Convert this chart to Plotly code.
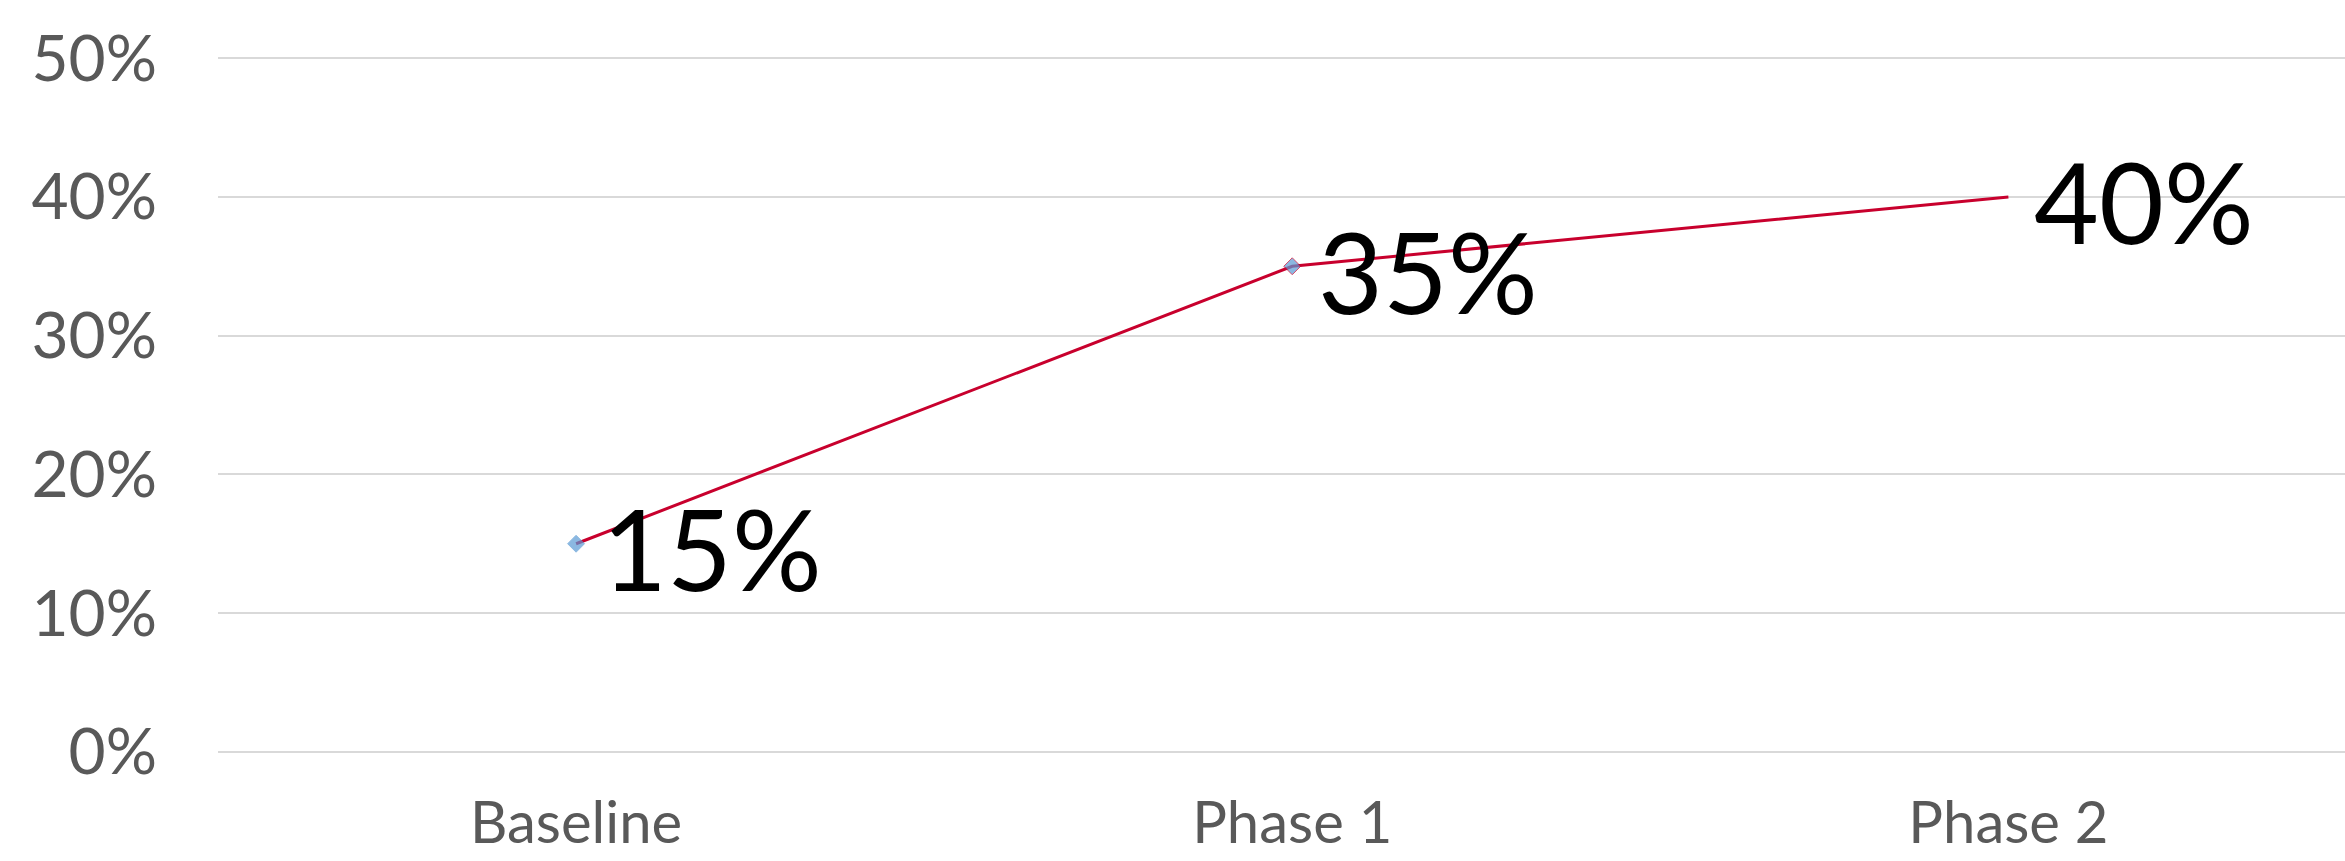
import plotly.graph_objects as go

categories = ["Baseline", "Phase 1", "Phase 2"]
values = [0.15, 0.35, 0.40]
labels = ["15%", "35%", "40%"]
y_ticks = [0, 0.1, 0.2, 0.3, 0.4, 0.5]

FONT = "Lato"

fig = go.Figure()
fig.add_trace(go.Scatter(
    x=categories,
    y=values,
    mode="lines+markers",
    line=dict(color="#C8002D", width=3),
    marker=dict(
        symbol="diamond",
        size=[13, 13, 0],
        color="#5B9BD5",
        line=dict(color=["#5B9BD5", "#C8002D", "#C8002D"], width=1),
    ),
    cliponaxis=False,
    hoverinfo="skip",
))

for c, v, t in zip(categories, values, labels):
    fig.add_annotation(
        x=c, y=v, text=t, showarrow=False,
        xanchor="left", yanchor="middle",
        xshift=24, yshift=-4,
        font=dict(family=FONT, size=112, color="#000000"),
    )

fig.update_layout(
    width=2345,
    height=861,
    margin=dict(l=218, r=0, t=54, b=105),
    paper_bgcolor="white",
    plot_bgcolor="white",
    showlegend=False,
    font=dict(family=FONT, color="#595959"),
)
fig.update_xaxes(
    type="category",
    range=[-0.5, 2.47],
    showgrid=False,
    showline=False,
    zeroline=False,
    automargin=False,
    tickfont=dict(family=FONT, size=58, color="#595959"),
    ticks="",
    ticklabelstandoff=28,
)
fig.update_yaxes(
    range=[-0.003, 0.503],
    tickvals=y_ticks,
    tickformat=".0%",
    showgrid=True,
    gridcolor="#D9D9D9",
    gridwidth=2,
    zeroline=False,
    showline=False,
    automargin=False,
    ticks="",
    tickfont=dict(family=FONT, size=64, color="#595959"),
    ticklabelstandoff=60,
)

fig.write_html("out.html")
